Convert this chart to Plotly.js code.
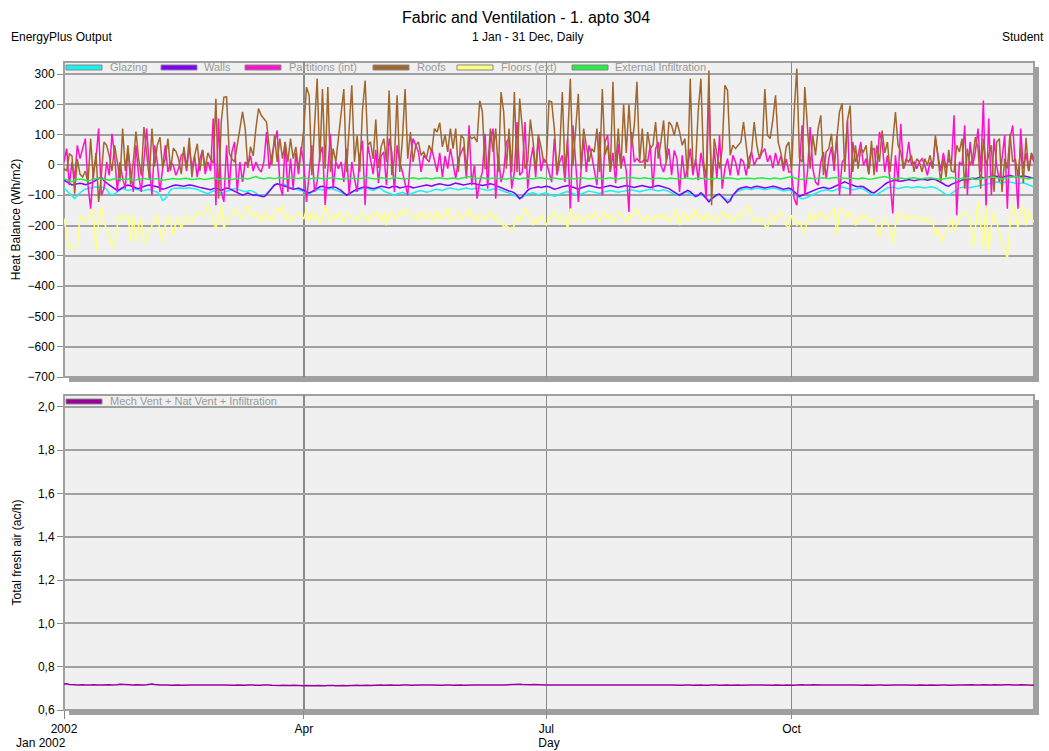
<!DOCTYPE html>
<html>
<head>
<meta charset="utf-8">
<script src="https://cdn.plot.ly/plotly-3.0.1.min.js"></script>
<style>
  html, body { margin: 0; padding: 0; background: #ffffff; }
  #chart { width: 1049px; height: 751px; }
</style>
</head>
<body>
<div id="chart"></div>
<script>
// ---------------- DATA (daily values, 1 Jan - 31 Dec 2002) ----------------
const startDate = '2002-01-01';
const seriesNames = ['Glazing', 'Walls', 'Partitions (int)', 'Roofs', 'Floors (ext)', 'External Infiltration'];
const ventName = 'Mech Vent + Nat Vent + Infiltration';
const xTickVals = ['2002-01-01', '2002-04-01', '2002-07-01', '2002-10-01'];
const xTickText = ['2002', 'Apr', 'Jul', 'Oct'];

const glazing = [
-76,-85,-95,-105,-111,-100,-92,-85,-80,-78,-76,-73,-72,-74,-73,-75,-80,-95,-98,-96,-88,-82,-78,-80,-84,-82,-79,-80,-83,-85,-84,
-82,-80,-84,-86,-90,-100,-117,-112,-95,-82,-78,-76,-77,-76,-78,-76,-75,-77,-78,-80,-85,-88,-92,-95,-90,-85,-88,-92,
-94,-90,-86,-82,-80,-78,-80,-82,-85,-88,-86,-84,-88,-92,-100,-105,-103,-95,-85,-75,-66,-62,-64,-63,-65,-70,-75,-78,-80,-82,-85,
-88,-92,-95,-90,-85,-82,-80,-82,-84,-80,-78,-80,-82,-86,-90,-95,-100,-95,-90,-88,-84,-80,-78,-76,-78,-82,-84,-80,-76,-78,
-86,-90,-94,-98,-100,-96,-92,-90,-94,-98,-96,-92,-88,-86,-84,-86,-90,-88,-84,-82,-80,-82,-84,-80,-78,-76,-78,-80,-82,-80,-78,
-76,-78,-80,-78,-76,-78,-80,-82,-84,-82,-80,-78,-80,-84,-88,-90,-92,-95,-100,-105,-111,-108,-100,-96,-94,-92,-95,-98,-96,-94,
-92,-96,-100,-104,-100,-96,-92,-90,-88,-90,-94,-98,-100,-96,-92,-88,-86,-88,-90,-92,-94,-90,-88,-86,-84,-86,-88,-90,-88,-86,-84,
-84,-82,-84,-86,-88,-86,-84,-82,-80,-82,-84,-86,-84,-82,-84,-88,-92,-96,-100,-96,-92,-88,-90,-95,-100,-105,-100,-96,-104,-110,-115,
-112,-106,-100,-98,-104,-110,-117,-112,-100,-92,-86,-82,-80,-78,-80,-82,-78,-76,-78,-80,-82,-80,-78,-76,-78,-80,-84,-86,-84,-82,
-86,-92,-100,-108,-112,-110,-106,-100,-96,-92,-88,-86,-84,-82,-84,-86,-84,-80,-76,-73,-75,-78,-80,-82,-80,-78,-76,-80,-86,-92,-96,
-100,-98,-92,-86,-80,-76,-74,-73,-75,-78,-76,-74,-72,-73,-75,-74,-72,-73,-74,-76,-74,-72,-73,-75,-80,-86,-92,-98,-100,-94,
-86,-80,-76,-74,-72,-74,-75,-73,-72,-70,-68,-66,-64,-62,-60,-58,-56,-58,-60,-57,-55,-56,-58,-60,-62,-60,-58,-62,-66,-70,-73
];

const walls = [
-50,-55,-62,-66,-64,-62,-60,-62,-65,-63,-60,-56,-50,-45,-40,-52,-60,-66,-72,-78,-84,-80,-74,-70,-66,-68,-72,-76,-78,-74,-70,
-68,-66,-67,-70,-72,-75,-80,-78,-74,-70,-68,-66,-67,-68,-70,-68,-66,-67,-70,-72,-74,-76,-78,-80,-82,-78,-76,-80,
-84,-80,-76,-78,-82,-86,-90,-95,-100,-96,-92,-96,-100,-98,-100,-104,-105,-98,-88,-76,-66,-62,-64,-66,-70,-74,-78,-80,-78,-76,-80,
-84,-88,-92,-88,-82,-76,-72,-70,-72,-76,-74,-72,-74,-78,-84,-92,-100,-95,-88,-84,-80,-76,-74,-72,-74,-76,-78,-76,-72,-70,
-72,-74,-76,-72,-70,-72,-76,-74,-72,-70,-72,-76,-74,-72,-70,-68,-66,-68,-70,-66,-64,-62,-64,-66,-68,-66,-62,-60,-62,-64,-66,
-64,-62,-60,-62,-64,-66,-68,-66,-64,-62,-64,-68,-72,-76,-80,-84,-86,-88,-92,-100,-111,-104,-92,-84,-78,-76,-74,-72,-74,-72,
-70,-72,-76,-80,-78,-74,-72,-70,-68,-70,-74,-78,-80,-76,-72,-70,-68,-70,-72,-74,-76,-74,-72,-70,-68,-70,-72,-74,-72,-70,-68,
-70,-72,-74,-72,-70,-68,-70,-72,-74,-72,-70,-68,-70,-72,-74,-78,-84,-90,-96,-100,-95,-88,-84,-88,-96,-104,-100,-92,-100,-110,-122,
-112,-104,-98,-96,-104,-115,-125,-118,-100,-88,-80,-76,-74,-72,-74,-76,-72,-70,-72,-74,-76,-74,-72,-70,-72,-74,-78,-80,-78,-76,
-80,-88,-96,-104,-100,-96,-92,-88,-84,-80,-78,-76,-74,-76,-78,-76,-72,-68,-62,-58,-56,-60,-64,-68,-70,-72,-70,-72,-78,-86,-90,
-92,-86,-80,-72,-64,-58,-55,-52,-50,-52,-54,-52,-50,-48,-50,-52,-50,-48,-47,-48,-50,-48,-46,-48,-52,-56,-62,-68,-70,-64,
-60,-56,-52,-50,-48,-50,-46,-44,-45,-42,-40,-42,-44,-40,-38,-36,-38,-40,-42,-38,-36,-35,-37,-39,-40,-38,-36,-38,-40,-42,-44
];

const partitions = [
10,54,-67,10,-45,65,21,54,87,-67,-144,-23,21,120,-100,-78,10,-34,103,32,-89,10,-45,-78,54,-23,-89,65,-34,-89,21,
120,-1,-100,65,10,-89,-12,65,-23,10,-1,-34,-12,32,40,-20,60,-10,30,-40,20,50,-30,10,-20,153,-133,153,
-89,-122,65,-78,43,76,-89,10,-56,10,-1,30,-20,10,-12,-23,10,109,-12,32,76,114,-67,-100,76,-89,21,-78,40,-30,60,
-1,-122,-34,65,-89,-56,32,60,-133,-23,103,-78,10,-12,10,-56,54,-100,10,-45,-89,32,80,-133,65,20,-30,50,-60,30,
43,-67,87,43,-89,65,10,-23,-67,-100,21,87,65,43,-23,32,21,10,54,10,-23,40,-40,30,-12,54,10,-45,20,43,60,
-45,131,-67,-1,-111,-56,-23,103,-78,87,120,-111,32,-56,-23,76,87,-78,-23,142,-34,-23,142,-78,10,60,-40,90,-20,20,
10,-23,-56,87,-34,10,32,-56,87,-155,131,10,-122,-23,87,-23,65,32,-23,-67,109,-100,76,98,-23,40,-60,70,-10,30,-20,
-155,109,10,21,10,10,21,10,65,-78,54,76,-1,-23,10,54,-34,48,21,-89,32,-45,-12,54,-34,20,-50,40,-10,-111,252,
-67,54,-45,98,-78,-12,21,-34,32,10,-34,21,10,-34,21,43,-1,21,21,43,54,10,32,-10,40,0,30,-20,20,-23,
-23,-111,-133,10,131,-100,-23,125,-12,-56,-67,10,43,-45,21,60,-20,98,-100,10,21,147,-100,76,10,32,76,-1,21,-30,50,
54,-23,109,76,-23,32,-56,-160,32,-56,136,-12,10,76,-1,10,-12,10,21,-1,-34,10,-12,87,30,-20,40,-10,20,0,
164,-166,10,-1,131,-100,76,-1,43,120,-23,213,-144,153,-100,87,-1,-56,21,98,-144,87,131,-23,-144,120,-12,40,-20,30,10
];

const roofs = [
-12,-20,37,30,-95,20,-30,-40,-20,-60,87,-45,40,-122,-35,76,65,30,-20,65,10,-55,120,-20,65,-65,10,110,20,-35,125,
30,-45,120,-5,65,92,-10,20,87,-20,55,45,20,-30,60,-10,90,-40,30,70,-20,50,-10,40,20,5,219,-111,
142,224,225,40,20,10,65,120,175,120,-10,60,30,120,186,164,153,142,60,0,98,10,87,21,76,10,87,21,60,-12,40,
120,257,230,-34,140,285,10,251,-12,257,-23,54,10,87,164,251,-23,109,263,10,98,-23,180,279,65,76,20,150,-10,60,
87,10,246,-34,21,230,-23,87,251,21,109,10,65,76,32,43,21,65,43,120,109,140,60,100,43,120,54,120,-23,98,87,
-23,98,87,92,76,212,175,-12,-12,120,43,120,-23,241,175,-12,120,-23,241,-23,219,120,-12,10,150,80,-20,100,60,10,
10,212,208,120,-23,43,241,-23,87,285,-1,120,235,-12,120,65,10,54,43,120,-23,251,32,65,-23,275,-10,120,-12,200,40,
200,60,130,275,10,120,-12,109,54,65,142,21,76,147,10,142,131,98,142,109,65,87,-40,285,-12,-1,180,285,10,-45,312,
-133,87,43,-12,54,263,246,32,65,54,65,76,142,54,-12,43,142,65,21,60,251,98,87,150,230,76,40,-10,60,76,
-23,175,318,21,10,257,120,-12,98,32,120,164,-34,43,54,103,-1,87,175,203,-23,147,196,-23,65,-12,54,43,65,-30,80,
-34,65,10,114,40,76,-23,76,175,65,43,-12,21,10,32,-23,21,10,-23,21,-1,32,-10,98,10,-56,20,-40,50,-20,
-23,65,43,87,-78,54,-1,21,92,54,-78,87,-1,32,65,-89,76,87,-89,21,-12,103,10,21,-40,60,-60,90,-20,40,20
];

const floors = [
-177,-230,-276,-276,-271,-271,-166,-177,-188,-177,-160,-144,-287,-188,-139,-190,-210,-232,-276,-260,-200,-161,-170,-177,-166,-254,-166,-254,-200,-177,-260,
-240,-221,-199,-175,-161,-220,-254,-200,-166,-188,-232,-190,-172,-210,-190,-166,-180,-188,-170,-155,-160,-166,-155,-133,-150,-188,-210,-170,
-133,-210,-180,-177,-160,-144,-160,-166,-177,-160,-133,-150,-170,-160,-177,-188,-155,-177,-166,-188,-166,-144,-155,-133,-177,-166,-188,-177,-166,-160,-170,
-177,-144,-188,-155,-177,-166,-188,-177,-133,-166,-188,-166,-177,-155,-177,-188,-155,-166,-177,-177,-188,-166,-155,-177,-188,-166,-177,-155,-166,-188,
-155,-199,-166,-155,-177,-177,-155,-166,-144,-155,-166,-177,-166,-188,-155,-166,-177,-160,-170,-188,-150,-180,-166,-172,-139,-188,-177,-166,-155,-180,-170,
-166,-139,-177,-166,-188,-166,-177,-177,-166,-155,-177,-166,-188,-188,-205,-199,-210,-216,-199,-166,-188,-177,-144,-155,-177,-199,-177,-188,-166,-177,
-199,-177,-166,-155,-177,-188,-166,-177,-210,-144,-166,-188,-166,-177,-188,-166,-166,-177,-155,-166,-188,-166,-155,-177,-166,-188,-177,-155,-166,-177,-188,
-166,-177,-155,-144,-166,-177,-188,-166,-177,-188,-166,-177,-166,-177,-166,-188,-177,-166,-144,-199,-166,-155,-188,-166,-177,-144,-177,-166,-188,-155,-177,
-177,-166,-188,-177,-155,-166,-177,-166,-188,-177,-166,-177,-155,-144,-133,-166,-188,-177,-188,-177,-199,-210,-166,-177,-188,-166,-155,-177,-199,-210,
-166,-177,-199,-188,-210,-227,-177,-155,-188,-166,-177,-155,-166,-188,-170,-160,-144,-232,-155,-144,-166,-177,-155,-166,-199,-188,-166,-177,-166,-180,-188,
-177,-210,-238,-199,-177,-188,-220,-260,-199,-155,-166,-177,-166,-177,-166,-177,-177,-172,-188,-172,-188,-177,-188,-232,-210,-254,-240,-221,-199,-177,
-221,-199,-172,-166,-155,-166,-177,-271,-210,-122,-200,-276,-133,-287,-200,-155,-188,-220,-260,-280,-309,-200,-133,-170,-210,-150,-133,-199,-150,-177,-188
];

const extInfiltration = [
-45,-48,-52,-55,-50,-47,-46,-48,-50,-52,-50,-47,-45,-44,-45,-47,-48,-50,-48,-46,-45,-46,-48,-47,-46,-48,-50,-49,-47,-46,-45,
-46,-48,-47,-46,-45,-47,-50,-49,-47,-46,-45,-46,-47,-46,-45,-44,-46,-48,-47,-46,-45,-47,-48,-46,-44,-43,-45,-47,
-46,-44,-45,-47,-48,-46,-45,-44,-43,-45,-46,-44,-40,-38,-42,-45,-46,-44,-42,-44,-45,-43,-42,-44,-46,-45,-43,-42,-44,-45,-43,
-42,-44,-46,-45,-43,-42,-44,-45,-46,-44,-43,-42,-44,-46,-47,-45,-44,-43,-44,-45,-46,-45,-44,-43,-42,-44,-45,-46,-44,-42,
-43,-45,-46,-44,-42,-43,-45,-46,-47,-45,-43,-42,-44,-46,-45,-44,-43,-45,-46,-44,-43,-42,-44,-45,-46,-44,-43,-45,-46,-44,-42,
-40,-38,-42,-44,-45,-43,-42,-44,-46,-45,-43,-42,-44,-45,-46,-47,-45,-44,-43,-45,-46,-44,-43,-44,-45,-46,-44,-43,-42,-44,
-45,-46,-44,-43,-45,-46,-47,-45,-44,-43,-45,-46,-44,-42,-43,-45,-46,-45,-44,-43,-44,-46,-45,-43,-42,-44,-45,-46,-44,-43,-42,
-40,-41,-43,-44,-45,-43,-42,-44,-45,-46,-44,-43,-44,-45,-46,-44,-43,-45,-46,-47,-45,-44,-43,-45,-46,-44,-43,-44,-45,-46,-48,
-46,-44,-43,-45,-46,-44,-42,-43,-45,-46,-47,-45,-44,-43,-44,-45,-46,-44,-43,-42,-44,-45,-46,-44,-43,-45,-46,-44,-42,-40,
-38,-42,-46,-48,-47,-45,-44,-43,-45,-46,-44,-43,-42,-44,-45,-43,-42,-41,-43,-44,-46,-45,-44,-43,-45,-46,-44,-43,-45,-47,-46,
-45,-43,-42,-40,-38,-41,-44,-46,-45,-44,-43,-45,-46,-44,-43,-42,-44,-45,-46,-44,-43,-42,-44,-45,-47,-48,-46,-44,-42,-41,
-43,-45,-46,-44,-43,-42,-44,-46,-48,-47,-45,-44,-43,-42,-41,-40,-42,-44,-46,-45,-43,-42,-40,-38,-40,-42,-44,-45,-46,-44,-42
];

const freshAir = [
0.720,0.721,0.718,0.716,0.717,0.716,0.718,0.717,0.716,0.715,0.716,0.717,0.718,0.716,0.715,0.716,0.718,0.717,0.716,0.715,0.717,0.719,0.718,0.717,0.716,0.715,0.716,0.717,0.716,0.715,0.716,
0.717,0.719,0.720,0.718,0.716,0.715,0.716,0.717,0.716,0.714,0.715,0.716,0.715,0.714,0.715,0.716,0.717,0.716,0.715,0.714,0.715,0.716,0.715,0.714,0.715,0.716,0.715,0.714,
0.715,0.716,0.715,0.714,0.713,0.714,0.715,0.714,0.713,0.714,0.715,0.716,0.715,0.714,0.713,0.714,0.715,0.716,0.715,0.714,0.713,0.712,0.713,0.714,0.713,0.712,0.713,0.714,0.713,0.712,0.713,
0.712,0.713,0.712,0.711,0.712,0.713,0.712,0.711,0.712,0.713,0.714,0.713,0.712,0.713,0.714,0.713,0.712,0.713,0.714,0.715,0.714,0.713,0.714,0.715,0.714,0.713,0.714,0.715,0.716,0.715,
0.714,0.715,0.716,0.715,0.714,0.713,0.714,0.715,0.716,0.715,0.714,0.715,0.716,0.717,0.716,0.715,0.714,0.715,0.716,0.715,0.714,0.713,0.714,0.715,0.716,0.715,0.714,0.715,0.716,0.715,0.714,
0.715,0.716,0.717,0.716,0.715,0.714,0.715,0.716,0.715,0.714,0.715,0.716,0.717,0.716,0.715,0.716,0.717,0.718,0.719,0.720,0.719,0.718,0.717,0.716,0.717,0.718,0.717,0.716,0.715,0.716,
0.715,0.716,0.717,0.716,0.715,0.716,0.717,0.716,0.715,0.714,0.715,0.716,0.715,0.714,0.715,0.716,0.717,0.716,0.715,0.714,0.715,0.716,0.715,0.714,0.715,0.716,0.715,0.714,0.715,0.716,0.715,
0.714,0.715,0.716,0.715,0.714,0.715,0.716,0.717,0.716,0.715,0.714,0.715,0.716,0.715,0.714,0.715,0.716,0.715,0.714,0.713,0.714,0.715,0.716,0.715,0.714,0.715,0.716,0.715,0.714,0.713,0.714,
0.715,0.716,0.715,0.714,0.715,0.716,0.715,0.714,0.715,0.716,0.715,0.714,0.715,0.716,0.717,0.716,0.715,0.714,0.715,0.716,0.715,0.714,0.713,0.714,0.715,0.714,0.713,0.714,0.715,0.714,
0.713,0.714,0.716,0.718,0.717,0.716,0.715,0.716,0.717,0.716,0.715,0.714,0.715,0.716,0.717,0.716,0.715,0.714,0.715,0.716,0.715,0.714,0.715,0.716,0.715,0.714,0.713,0.714,0.715,0.714,0.713,
0.714,0.715,0.716,0.715,0.714,0.715,0.716,0.717,0.716,0.715,0.714,0.715,0.716,0.715,0.714,0.713,0.714,0.715,0.714,0.713,0.714,0.715,0.714,0.713,0.714,0.715,0.716,0.715,0.714,0.715,
0.716,0.717,0.716,0.715,0.716,0.717,0.718,0.717,0.716,0.715,0.716,0.717,0.716,0.715,0.716,0.717,0.716,0.715,0.716,0.717,0.718,0.717,0.716,0.715,0.716,0.717,0.716,0.715,0.714,0.713,0.714
];

// ---------------- helpers ----------------
function datesFor(n) {
  const out = [];
  const t0 = Date.UTC(2002, 0, 1);
  for (let i = 0; i < n; i++) {
    out.push(new Date(t0 + i * 86400000).toISOString().slice(0, 10));
  }
  return out;
}

const colors = ['#19f0f0', '#7f00ff', '#ff10cc', '#a0662e', '#ffff80', '#22ee44'];
const ventColor = '#990099';
const topSeries = [glazing, walls, partitions, roofs, floors, extInfiltration];

// pixel geometry of the two panels
const L = 64, R = 1034, T = 62, B = 710;
const W = R - L, H = B - T;
const TOP_BOT = 377, BOT_TOP = 395;
const px = x => (x - L) / W;
const py = y => (B - y) / H;

const FONT = 'Liberation Sans, Arial, sans-serif';

const traces = topSeries.map((vals, i) => ({
  type: 'scatter', mode: 'lines',
  name: seriesNames[i],
  x: datesFor(vals.length), y: vals,
  xaxis: 'x', yaxis: 'y',
  line: { color: colors[i], width: 1.5 },
  showlegend: false
}));
traces.push({
  type: 'scatter', mode: 'lines', name: ventName,
  x: datesFor(freshAir.length), y: freshAir,
  xaxis: 'x2', yaxis: 'y2',
  line: { color: ventColor, width: 1.5 },
  showlegend: false
});

// frames with drop shadow
const shapes = [];
function panel(yTop, yBot) {
  shapes.push({ type: 'rect', xref: 'paper', yref: 'paper', layer: 'below',
    x0: px(L + 5), x1: px(R + 5), y0: py(yBot + 5), y1: py(yTop + 5),
    fillcolor: '#a0a0a0', line: { width: 0 } });
  shapes.push({ type: 'rect', xref: 'paper', yref: 'paper', layer: 'below',
    x0: px(L), x1: px(R), y0: py(yBot), y1: py(yTop),
    fillcolor: '#eff0ef', line: { color: '#a0a0a0', width: 2 } });
}
panel(T, TOP_BOT);
panel(BOT_TOP, B);

// legend boxes (drawn as swatches + text)
const annotations = [];
const legX = [66, 161, 245, 373, 457, 572];
const legTextX = [108, 202, 287, 415, 499, 613];
function legendItem(x, tx, yc, color, label) {
  shapes.push({ type: 'rect', xref: 'paper', yref: 'paper', layer: 'above',
    x0: px(x), x1: px(x + 36), y0: py(yc + 2.5), y1: py(yc - 2.5),
    fillcolor: color, line: { color: '#888888', width: 1 } });
  annotations.push({ xref: 'paper', yref: 'paper', x: px(tx), y: py(yc), xanchor: 'left', yanchor: 'middle',
    text: label, showarrow: false, font: { family: FONT, size: 11, color: '#9a9a9a' } });
}
seriesNames.forEach((n, i) => legendItem(legX[i], legTextX[i], 67.5, colors[i], n));
legendItem(66, 108, 401.5, ventColor, ventName);

// header texts
annotations.push({ xref: 'paper', yref: 'paper', x: px(526), y: py(18), xanchor: 'center', yanchor: 'middle',
  text: 'Fabric and Ventilation - 1. apto 304', showarrow: false, font: { family: FONT, size: 16, color: '#000' } });
annotations.push({ xref: 'paper', yref: 'paper', x: px(527), y: py(37), xanchor: 'center', yanchor: 'middle',
  text: '1 Jan - 31 Dec, Daily', showarrow: false, font: { family: FONT, size: 12, color: '#000' } });
annotations.push({ xref: 'paper', yref: 'paper', x: px(9), y: py(37), xanchor: 'left', yanchor: 'middle',
  text: 'EnergyPlus Output', showarrow: false, font: { family: FONT, size: 12, color: '#000' } });
annotations.push({ xref: 'paper', yref: 'paper', x: px(1046), y: py(37), xanchor: 'right', yanchor: 'middle',
  text: 'Student', showarrow: false, font: { family: FONT, size: 12, color: '#000' } });
annotations.push({ xref: 'paper', yref: 'paper', x: px(41), y: py(743), xanchor: 'center', yanchor: 'middle',
  text: 'Jan 2002', showarrow: false, font: { family: FONT, size: 12, color: '#000' } });

const xCommon = {
  type: 'date',
  range: ['2002-01-01', '2002-12-31'],
  tickmode: 'array', tickvals: xTickVals, ticktext: xTickText,
  showgrid: true, gridcolor: '#8a8a8a', gridwidth: 1.5,
  zeroline: false, showline: false,
  ticks: 'outside', ticklen: 8, tickcolor: '#8a8a8a', tickwidth: 1,
  tickfont: { family: FONT, size: 12, color: '#000' }
};

const layout = {
  width: 1049, height: 751,
  margin: { l: L, r: 1049 - R, t: T, b: 751 - B, pad: 0 },
  paper_bgcolor: '#ffffff',
  plot_bgcolor: 'rgba(0,0,0,0)',
  font: { family: FONT, size: 12, color: '#000' },
  separators: ',.',
  showlegend: false,
  xaxis: Object.assign({}, xCommon, { anchor: 'y', showticklabels: false, ticks: '', matches: 'x2' }),
  xaxis2: Object.assign({}, xCommon, { anchor: 'y2',
    title: { text: 'Day', font: { family: FONT, size: 12, color: '#000' }, standoff: 3 } }),
  yaxis: {
    domain: [py(TOP_BOT), 1], anchor: 'x',
    range: [-700, 340], tickmode: 'linear', tick0: -700, dtick: 100,
    showgrid: true, gridcolor: '#a0a0a0', gridwidth: 2, zeroline: false,
    ticks: 'outside', ticklen: 6, tickcolor: '#8a8a8a',
    tickfont: { family: FONT, size: 12, color: '#000' },
    title: { text: 'Heat Balance (Wh/m2)', font: { family: FONT, size: 12, color: '#000' }, standoff: 4 }
  },
  yaxis2: {
    domain: [0, py(BOT_TOP)], anchor: 'x2',
    range: [0.6, 2.055], tickmode: 'linear', tick0: 0.6, dtick: 0.2, tickformat: '.1f',
    showgrid: true, gridcolor: '#a0a0a0', gridwidth: 2, zeroline: false,
    ticks: 'outside', ticklen: 6, tickcolor: '#8a8a8a',
    tickfont: { family: FONT, size: 12, color: '#000' },
    title: { text: 'Total fresh air (ac/h)', font: { family: FONT, size: 12, color: '#000' }, standoff: 13 }
  },
  shapes: shapes,
  annotations: annotations
};

Plotly.newPlot('chart', traces, layout, { staticPlot: true, displayModeBar: false });
</script>
</body>
</html>
